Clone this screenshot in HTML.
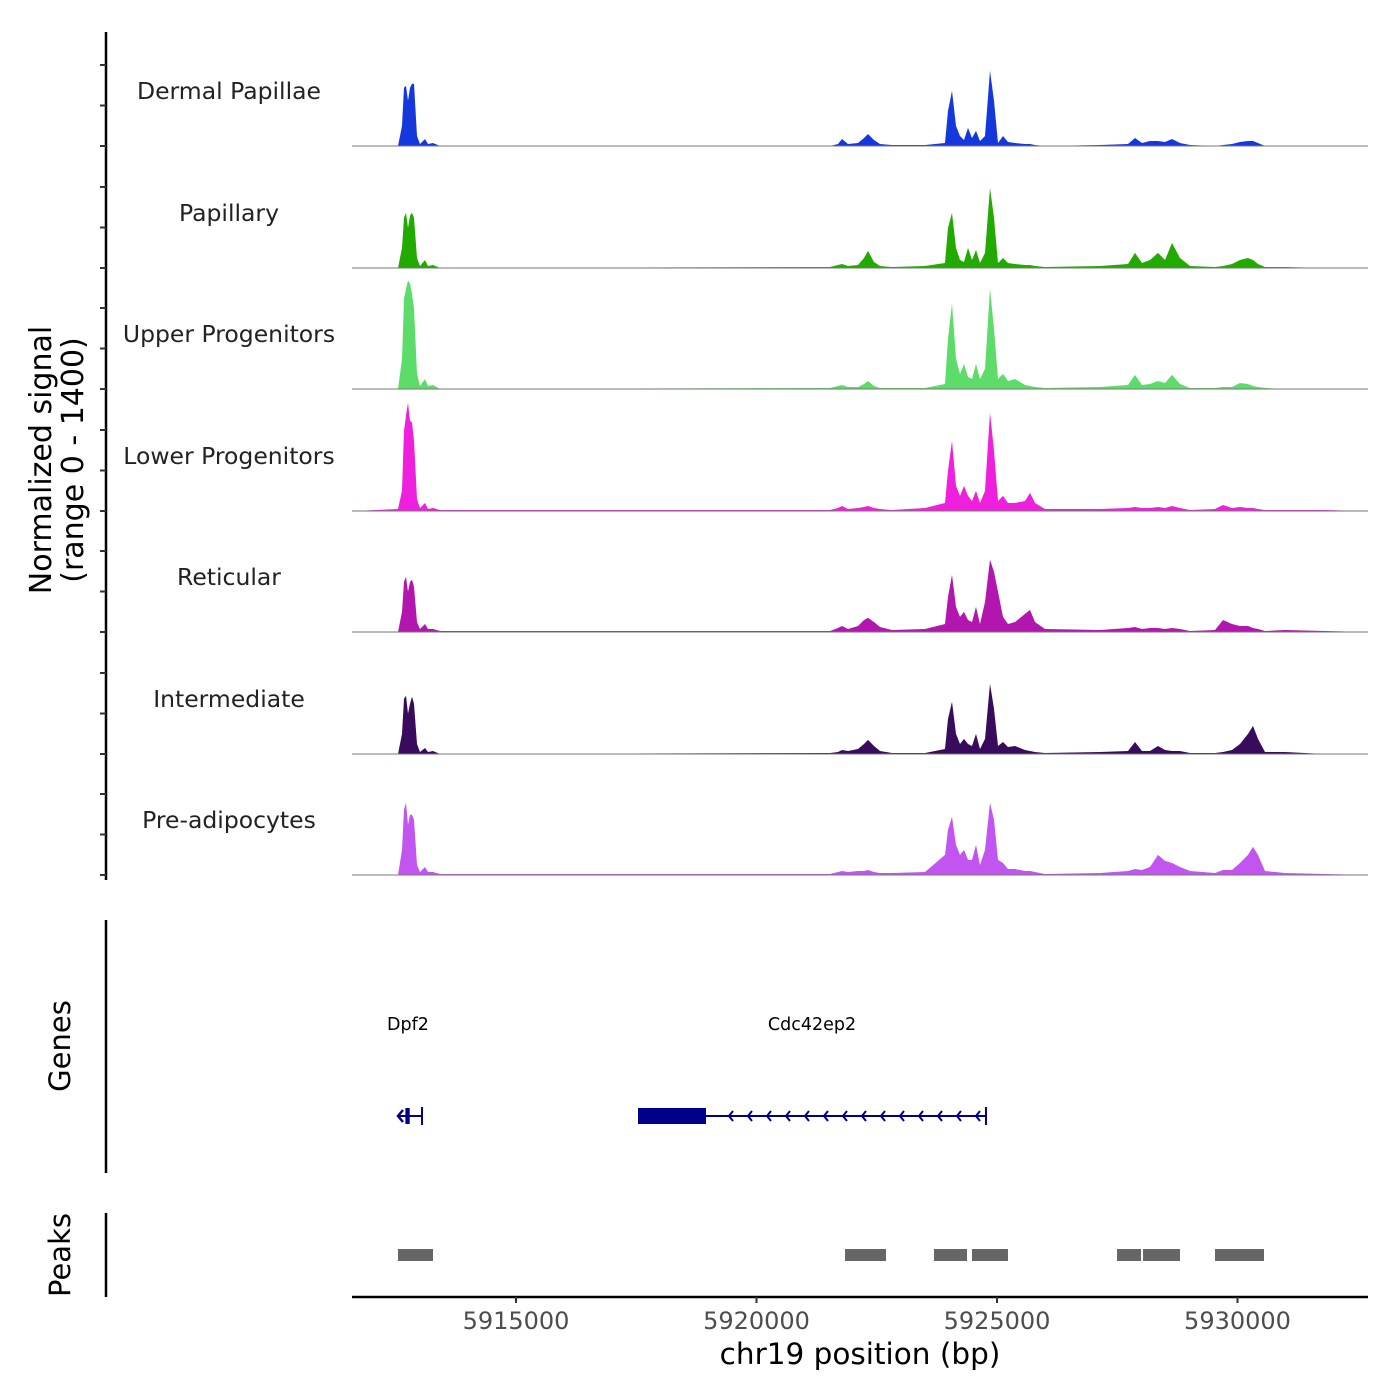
<!DOCTYPE html>
<html><head><meta charset="utf-8"><style>
html,body{margin:0;padding:0;background:#fff;}
svg{display:block;font-family:"DejaVu Sans","Liberation Sans",sans-serif;}
</style></head><body>
<svg id="chart" width="1400" height="1400" viewBox="0 0 1400 1400" xmlns="http://www.w3.org/2000/svg"></svg>
<script>
const positions=[5911590,5912546,5912629,5912671,5912713,5912754,5912796,5912837,5912879,5912941,5913004,5913108,5913170,5913274,5913420,5921528,5921694,5921777,5921902,5922110,5922234,5922318,5922442,5922567,5922816,5923503,5923919,5923981,5924064,5924147,5924231,5924314,5924397,5924480,5924563,5924646,5924750,5924854,5924937,5925020,5925124,5925228,5925374,5925582,5925686,5925790,5925997,5927141,5927723,5927869,5928014,5928181,5928347,5928492,5928638,5928804,5929012,5929532,5929698,5929885,5930052,5930218,5930322,5930426,5930572,5930988,5931820,5932713];
const trackNames=["Dermal Papillae","Papillary","Upper Progenitors","Lower Progenitors","Reticular","Intermediate","Pre-adipocytes"];
const trackColors=["#1538dd","#22aa00","#5edc6a","#ee1fdd","#b316ae","#380b5c","#c255f0"];
const sigDermal=[0,0,20,58,60,45,58,62,62,10,2,7,2,3,0,0,2,7,2,3,8,12,6,2,1,1,3,35,55,20,10,6,18,8,15,5,10,75,45,3,10,4,3,2,2,1,0,1,2,8,3,5,5,4,7,3,1,0,1,2,4,5,5,3,0,0,0,0];
const sigPapillary=[0,0,20,50,55,40,52,55,50,10,2,8,2,3,0,1,3,4,2,3,10,17,6,2,1,2,5,40,55,20,8,6,20,8,18,5,15,80,50,5,10,5,4,3,3,2,1,2,4,15,5,8,15,8,25,10,2,1,2,4,8,10,8,4,1,1,0,0];
const sigUpper=[0,0,30,90,100,108,105,95,80,15,3,10,3,4,0,1,3,4,2,2,5,8,3,1,1,1,5,50,85,30,15,25,12,10,25,10,20,100,60,10,15,8,10,4,3,2,1,2,4,14,4,5,8,6,14,5,1,1,2,2,6,5,3,2,1,0,0,0];
const sigLower=[0,2,20,80,95,108,90,88,70,12,3,8,2,3,1,1,3,5,2,3,4,5,3,2,1,3,8,40,70,25,15,25,15,10,20,8,20,98,60,10,15,8,8,10,18,8,2,2,3,4,3,3,4,3,5,3,1,2,6,3,4,3,3,2,1,1,1,0];
const sigReticular=[0,0,20,50,55,40,50,52,45,10,3,8,3,3,1,1,4,6,3,6,12,14,10,5,2,3,8,35,57,25,15,20,12,10,25,8,30,72,60,40,15,8,10,18,22,10,3,2,4,5,3,4,4,3,4,3,1,2,12,8,6,6,4,3,1,2,1,0];
const sigIntermediate=[0,0,20,55,58,40,50,57,50,10,2,6,2,3,0,1,2,4,3,5,10,14,8,3,1,1,5,35,52,20,10,15,10,8,20,5,15,70,45,8,12,7,8,4,3,2,1,2,3,12,3,3,8,4,3,3,1,1,2,4,10,20,28,15,2,2,0,0];
const sigPreadipo=[0,0,25,65,72,50,60,60,55,10,3,8,3,3,1,1,3,4,3,4,4,5,3,2,2,3,20,45,58,30,20,25,15,15,30,10,25,72,55,15,12,6,6,4,4,3,1,2,4,6,5,8,20,14,12,8,4,2,5,5,12,20,28,20,4,2,1,0];
const signals=[sigDermal,sigPapillary,sigUpper,sigLower,sigReticular,sigIntermediate,sigPreadipo];
const xTicks=[5915000,5920000,5925000,5930000];
const peakStarts=[5912546,5921840,5923690,5924480,5927495,5928036,5929532];
const peakEnds=[5913274,5922692,5924376,5925228,5927994,5928804,5930551];
const geneNames=["Dpf2","Cdc42ep2"];
const geneStarts=[5912546,5917536];
const geneEnds=[5913045,5924771];
const cdsStarts=[5912700,5917536];
const cdsEnds=[5912790,5918950];

const NS="http://www.w3.org/2000/svg";
const svg=document.getElementById('chart');
function el(tag,attrs,parent){const e=document.createElementNS(NS,tag);for(const k in attrs)e.setAttribute(k,attrs[k]);(parent||svg).appendChild(e);return e;}
const X0=352,X1=1368,D0=5911590,D1=5932713;
function xs(bp){return X0+(bp-D0)/(D1-D0)*(X1-X0);}
const baselines=[146,268,389,511,632,754,875];
const trackH=121.5, yMax=121;
function ys(v,i){return baselines[i]-v/yMax*trackH;}

for(let i=0;i<7;i++){
  const g=el('g',{});
  
  
  let d='M'+xs(positions[0])+','+baselines[i];
  for(let j=0;j<positions.length;j++){d+=' L'+xs(positions[j]).toFixed(1)+','+ys(signals[i][j],i).toFixed(1);}
  d+=' L'+xs(positions[positions.length-1])+','+baselines[i]+' Z';
  const p=el('path',{d:d,fill:trackColors[i],stroke:'none'},g);
  
  
  const bl=el('line',{x1:X0,x2:X1,y1:baselines[i],y2:baselines[i],stroke:'#777','stroke-width':1},g);
  
  
  const t=el('text',{x:229,y:baselines[i]-47,'text-anchor':'middle','font-size':23.5,fill:'#222'},g);
  t.textContent=trackNames[i];
  
  
}
const ax=el('line',{x1:106,x2:106,y1:32,y2:880,stroke:'#000','stroke-width':2.5});


for(let i=0;i<7;i++)for(let k=0;k<3;k++){
  const y=baselines[i]-k*trackH/3;
  const tk=el('line',{x1:100,x2:106,y1:y,y2:y,stroke:'#333','stroke-width':2});
  
  
}
const yt=el('text',{transform:'translate(51,460) rotate(-90)','text-anchor':'middle','font-size':30,fill:'#000'});


yt.innerHTML='<tspan x="0" dy="0">Normalized signal</tspan><tspan x="0" dy="32">(range 0 - 1400)</tspan>';

const gax=el('line',{x1:106,x2:106,y1:920,y2:1173,stroke:'#000','stroke-width':2.5});


const gt=el('text',{transform:'translate(70,1046) rotate(-90)','text-anchor':'middle','font-size':29,fill:'#000'});
gt.textContent='Genes';


const GY=1116,GC='#00008b';
for(let i=0;i<geneNames.length;i++){
  const g=el('g',{});
  
  
  const a=xs(geneStarts[i]),b=xs(geneEnds[i]);
  const lab=el('text',{x:(i==0?408:812),y:1030,'text-anchor':'middle','font-size':17.5,fill:'#000'},g);
  lab.textContent=geneNames[i];
  
  
  el('line',{x1:a,x2:b,y1:GY,y2:GY,stroke:GC,'stroke-width':2},g);
  el('rect',{x:xs(cdsStarts[i]),y:GY-8,width:xs(cdsEnds[i])-xs(cdsStarts[i]),height:16,fill:GC},g);
  el('line',{x1:b,x2:b,y1:GY-9,y2:GY+9,stroke:GC,'stroke-width':2},g);
  const step=19;
  for(let x=b-10;x>a+4;x-=step){
    if(x>xs(cdsStarts[i])&&x<xs(cdsEnds[i])+4)continue;
    el('polyline',{points:(x+4)+','+(GY-5)+' '+x+','+GY+' '+(x+4)+','+(GY+5),fill:'none',stroke:GC,'stroke-width':2},g);
  }
  if(i==0){el('polyline',{points:(a+5)+','+(GY-6)+' '+a+','+GY+' '+(a+5)+','+(GY+6),fill:'none',stroke:GC,'stroke-width':2.5},g);}
}
const pax=el('line',{x1:106,x2:106,y1:1213,y2:1297,stroke:'#000','stroke-width':2.5});


const pt=el('text',{transform:'translate(70,1255) rotate(-90)','text-anchor':'middle','font-size':29,fill:'#000'});
pt.textContent='Peaks';


for(let i=0;i<peakStarts.length;i++){
  const r=el('rect',{x:xs(peakStarts[i]),y:1249,width:xs(peakEnds[i])-xs(peakStarts[i]),height:12,fill:'#666'});
  
  
}
const xa=el('line',{x1:X0,x2:X1,y1:1297,y2:1297,stroke:'#000','stroke-width':2.5});


for(const t of xTicks){
  const tk=el('line',{x1:xs(t),x2:xs(t),y1:1297,y2:1303,stroke:'#333','stroke-width':2});
  
  
  const lb=el('text',{x:xs(t),y:1329,'text-anchor':'middle','font-size':24,fill:'#4d4d4d'});
  lb.textContent=String(t);
  
  
}
const xt=el('text',{x:860,y:1364,'text-anchor':'middle','font-size':29.5,fill:'#000'});
xt.textContent='chr19 position (bp)';


</script>
</body></html>
